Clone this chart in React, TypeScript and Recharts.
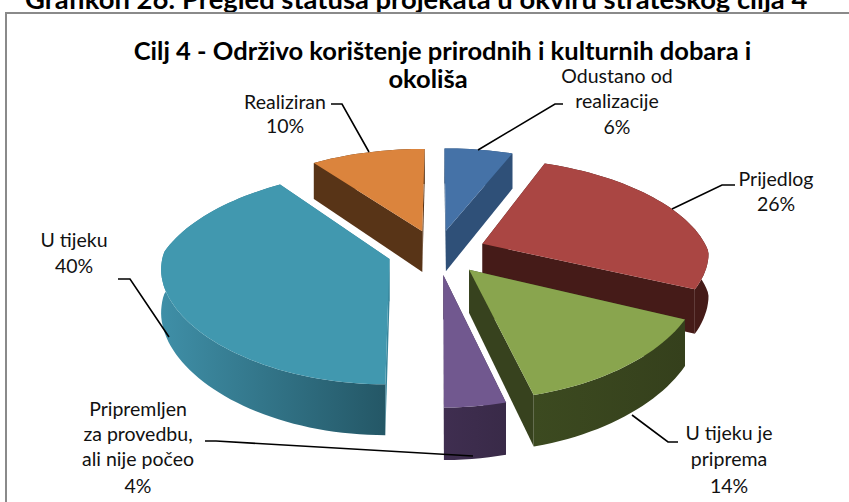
import { PieChart, Pie } from 'recharts'

const categories = ['Odustano od realizacije', 'Prijedlog', 'U tijeku je priprema', 'Pripremljen za provedbu, ali nije počeo', 'U tijeku', 'Realiziran']
const values = [6, 26, 14, 4, 40, 10]

const topColors = ['#4572a7', '#aa4643', '#89a54e', '#71588f', '#4198af', '#db843d']
const cutColors = ['#2f5078', '#451b18', '#37421e', '#3c2b4b', '#38859b', '#583417']
const rimFrom = ['#2f5078', '#451b18', '#3c4a20', '#3f2e50', '#3f8fa7', '#583417']
const rimTo = ['#2f5078', '#451b18', '#35401c', '#392a48', '#245766', '#583417']

const labelLines = [
  ['Odustano od', 'realizacije'],
  ['Prijedlog'],
  ['U tijeku je', 'priprema'],
  ['Pripremljen', 'za provedbu,', 'ali nije počeo'],
  ['U tijeku'],
  ['Realiziran'],
]

// label anchor, baselines and leader line for each slice
const labelLayout = [
  { x: 617, y: [83, 108, 134], leader: '563,104 555,104 478,150' },
  { x: 776, y: [186, 211], leader: '735,185 722,185 672,209' },
  { x: 729, y: [440, 466, 493], leader: '678,442 668,442 632,415' },
  { x: 138, y: [416, 441, 466, 493], leader: '205,441 216,441 473,456' },
  { x: 74, y: [247, 273], leader: '118,279 130,279 169,337' },
  { x: 285, y: [109, 133], leader: '331,104 342,104 369,152' },
]

const data = categories.map((name, i) => ({ name, value: values[i] }))

// view of the tilted disc
const SQUASH = 0.452
const PERSPECTIVE = 0.164
const PERSPECTIVE_X_FAR = 0.2
const PERSPECTIVE_X_NEAR = 0.08
const EXPLODE = 0.22
const DEPTH = 42
const FONT = 'Lato, "Open Sans", sans-serif'

function SliceShape(props: any) {
  const { cx, cy, outerRadius, startAngle, endAngle, index } = props
  const from = Math.min(90 - startAngle, 90 - endAngle)
  const to = Math.max(90 - startAngle, 90 - endAngle)
  const mid = ((from + to) / 2) * (Math.PI / 180)
  const offU = EXPLODE * Math.sin(mid)
  const offV = EXPLODE * Math.cos(mid)

  const project = (u: number, v: number, drop: boolean) => {
    const s = 1 / (1 + PERSPECTIVE * v)
    const sx = 1 / (1 + (v > 0 ? PERSPECTIVE_X_FAR : PERSPECTIVE_X_NEAR) * v)
    const x = cx + u * outerRadius * sx
    const y = cy - v * outerRadius * SQUASH * s + (drop ? DEPTH * s : 0)
    return `${x.toFixed(1)},${y.toFixed(1)}`
  }
  const rimPoint = (deg: number, drop: boolean) => {
    const a = (deg * Math.PI) / 180
    return project(offU + Math.sin(a), offV + Math.cos(a), drop)
  }

  const steps: number[] = []
  for (let d = from; d < to; d += 2) steps.push(d)
  steps.push(to)

  const apex = project(offU, offV, false)
  const apexLow = project(offU, offV, true)
  const topPts = steps.map((d) => rimPoint(d, false))
  const lowPts = steps.map((d) => rimPoint(d, true)).reverse()
  const gradId = `rim-${index}`

  return (
    <g>
      <defs>
        <linearGradient id={gradId} x1="0" y1="0" x2="1" y2="0">
          <stop offset="0" stopColor={rimFrom[index]} />
          <stop offset="1" stopColor={rimTo[index]} />
        </linearGradient>
      </defs>
      <polygon points={[apex, topPts[0], lowPts[lowPts.length - 1], apexLow].join(' ')} fill={cutColors[index]} />
      <polygon points={[apex, topPts[topPts.length - 1], lowPts[0], apexLow].join(' ')} fill={cutColors[index]} />
      <polygon points={[...topPts, ...lowPts].join(' ')} fill={`url(#${gradId})`} />
      <polygon points={[apex, ...topPts].join(' ')} fill={topColors[index]} />
    </g>
  )
}

function SliceLabel(props: any) {
  const { index } = props
  const layout = labelLayout[index]
  const lines = [...labelLines[index], `${values[index]}%`]
  return (
    <g>
      <polyline points={layout.leader} fill="none" stroke="#000" strokeWidth={1.6} />
      {lines.map((line, i) => (
        <text key={i} x={layout.x} y={layout.y[i]} textAnchor="middle" fontFamily={FONT} fontSize={19.5} fill="#111">
          {line}
        </text>
      ))}
    </g>
  )
}

export default function App() {
  return (
    <div style={{ position: 'absolute', left: 0, top: 0, width: 849, height: 502, background: '#fff', overflow: 'hidden' }}>
      <div style={{ position: 'absolute', left: 25, top: -18, fontFamily: FONT, fontWeight: 700, fontSize: 27.4, whiteSpace: 'nowrap', color: '#000' }}>
        Grafikon 26: Pregled statusa projekata u okviru strateškog cilja 4
      </div>
      <div style={{ position: 'absolute', left: 5, top: 12, width: 860, height: 500, borderLeft: '2px solid #8a8a8a', borderTop: '2px solid #8a8a8a' }} />
      <div style={{ position: 'absolute', left: 0, top: 36, width: 849, textAlign: 'center', fontFamily: FONT, fontWeight: 700, fontSize: 25.5, lineHeight: '28px', color: '#000' }}>
        <div style={{ marginLeft: 36 }}>Cilj 4 - Održivo korištenje prirodnih i kulturnih dobara i</div>
        <div style={{ marginLeft: 7 }}>okoliša</div>
      </div>
      <div style={{ position: 'absolute', left: 0, top: 0 }}>
        <PieChart width={849} height={502} margin={{ top: 0, right: 0, bottom: 0, left: 0 }}>
          <Pie
            data={data}
            dataKey="value"
            cx={437}
            cy={252}
            outerRadius={226}
            startAngle={90}
            endAngle={-270}
            stroke="none"
            shape={SliceShape}
            label={SliceLabel}
            labelLine={false}
            isAnimationActive={false}
          />
        </PieChart>
      </div>
    </div>
  )
}
